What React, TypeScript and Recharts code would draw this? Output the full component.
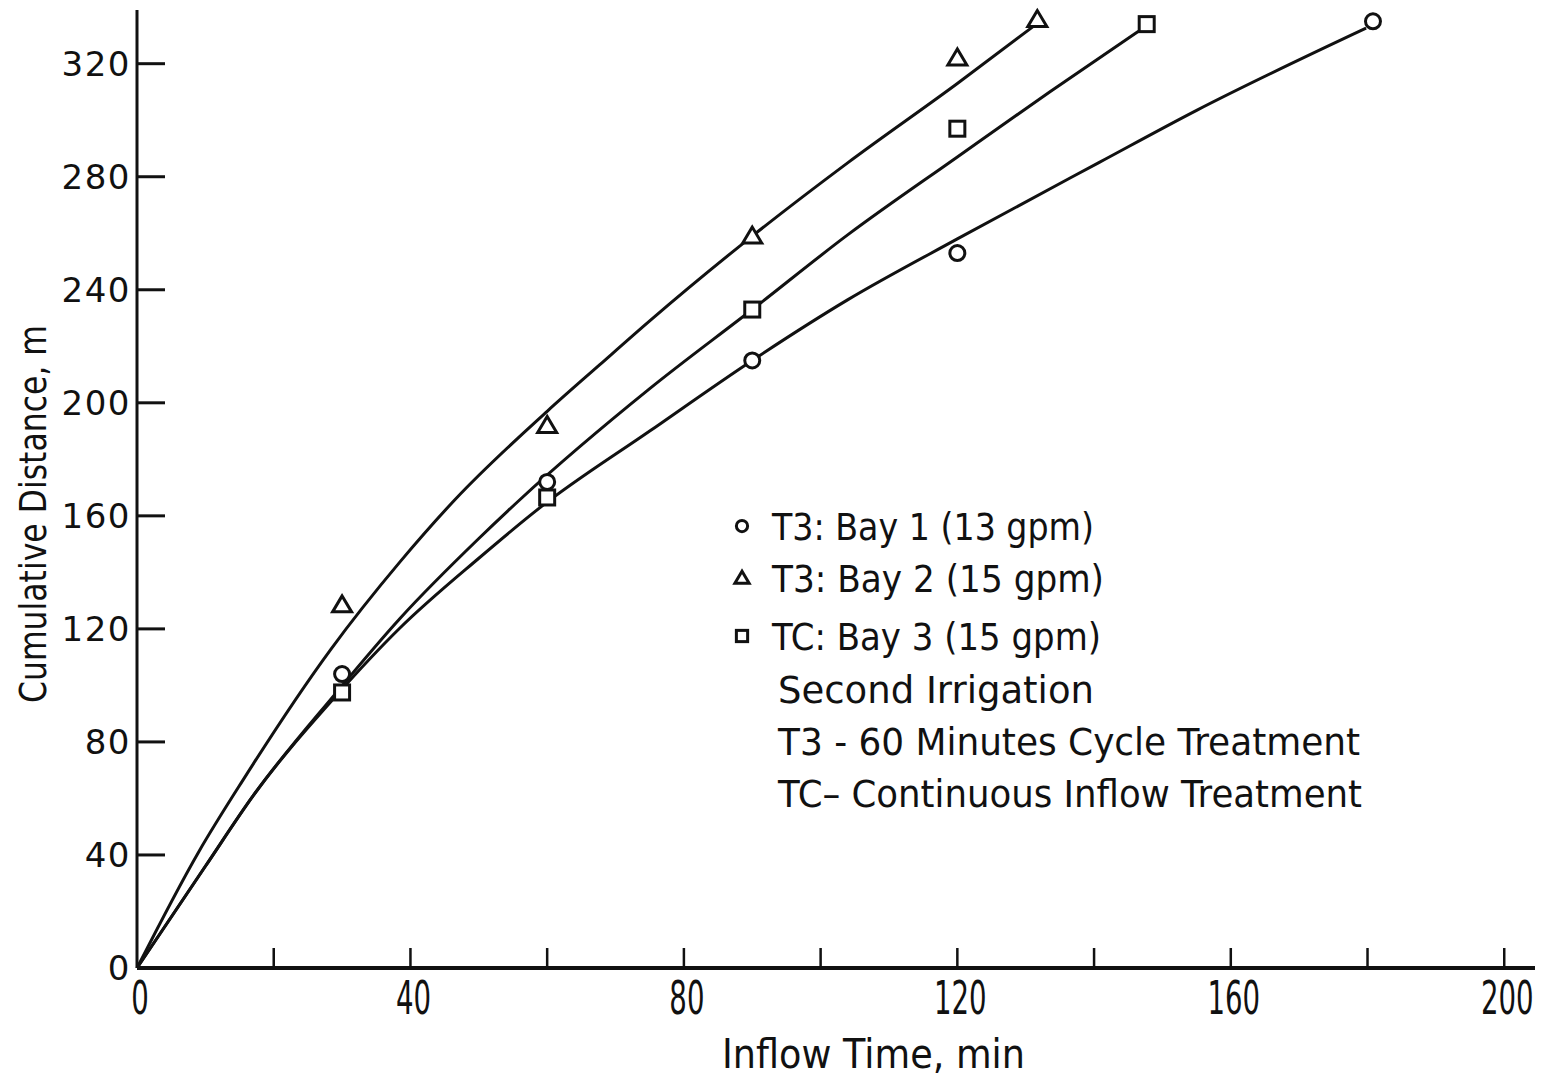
import { ComposedChart, Legend, Line, Scatter, XAxis, YAxis } from "recharts"

const xTicks = [0, 20, 40, 60, 80, 100, 120, 140, 160, 180, 200]
const yTicks = [0, 40, 80, 120, 160, 200, 240, 280, 320]

// observed advance points (t = inflow time min, d = distance m)
const bay1Points = [
  { t: 30, d: 104 },
  { t: 60, d: 172 },
  { t: 90, d: 215 },
  { t: 120, d: 253 },
  { t: 180.8, d: 335 },
]
const bay2Points = [
  { t: 30, d: 128.5 },
  { t: 60, d: 192 },
  { t: 90, d: 259 },
  { t: 120, d: 322 },
  { t: 131.7, d: 335.6 },
]
const bay3Points = [
  { t: 30, d: 97.5 },
  { t: 60, d: 166.5 },
  { t: 90, d: 233 },
  { t: 120, d: 297 },
  { t: 147.7, d: 334 },
]

// fitted curves
const bay1Curve = [
  { t: 0, d: 0 },
  { t: 10, d: 36 },
  { t: 17, d: 61 },
  { t: 29, d: 96 },
  { t: 38.5, d: 120.4 },
  { t: 50, d: 145 },
  { t: 59, d: 163 },
  { t: 75, d: 190 },
  { t: 90, d: 215 },
  { t: 104, d: 236.5 },
  { t: 120, d: 258 },
  { t: 140.7, d: 285 },
  { t: 155, d: 303.5 },
  { t: 179.8, d: 332.6 },
]
const bay2Curve = [
  { t: 0, d: 0 },
  { t: 9, d: 41 },
  { t: 15.5, d: 66.5 },
  { t: 28.3, d: 112.6 },
  { t: 38.5, d: 143.8 },
  { t: 46.5, d: 165.7 },
  { t: 60, d: 197 },
  { t: 67.7, d: 213.5 },
  { t: 75, d: 229 },
  { t: 90, d: 259 },
  { t: 104, d: 285 },
  { t: 120, d: 313 },
  { t: 131, d: 333 },
]
const bay3Curve = [
  { t: 0, d: 0 },
  { t: 10, d: 36 },
  { t: 17, d: 61 },
  { t: 29, d: 97 },
  { t: 38.5, d: 123.8 },
  { t: 50, d: 152 },
  { t: 56, d: 165.7 },
  { t: 75, d: 205 },
  { t: 90, d: 233 },
  { t: 104, d: 259.5 },
  { t: 120, d: 287 },
  { t: 133.5, d: 310 },
  { t: 146.5, d: 331.5 },
]

const seriesLabels = ["T3: Bay 1 (13 gpm)", "T3: Bay 2 (15 gpm)", "TC: Bay 3 (15 gpm)"]
const notes = ["Second Irrigation", "T3 - 60 Minutes Cycle Treatment", "TC\u2013 Continuous Inflow Treatment"]

const INK = "#111"
const FONT = "'DejaVu Sans', sans-serif"

function Marker({ kind, cx, cy, s = 1 }: { kind: string; cx: number; cy: number; s?: number }) {
  if (kind === "circle") {
    return <circle cx={cx} cy={cy} r={7.5 * s} fill="#fff" stroke={INK} strokeWidth={3} />
  }
  if (kind === "triangle") {
    const pts = `${cx},${cy - 9 * s} ${cx - 9.5 * s},${cy + 7 * s} ${cx + 9.5 * s},${cy + 7 * s}`
    return <polygon points={pts} fill="#fff" stroke={INK} strokeWidth={3} />
  }
  return <rect x={cx - 7.5 * s} y={cy - 7.5 * s} width={15 * s} height={15 * s} fill="#fff" stroke={INK} strokeWidth={3} />
}

// condensed tall digits like the typed original
const XTick = (props: any) => {
  const { x, y, payload } = props
  const v = payload.value
  return (
    <g>
      {v !== 0 && <line x1={x} x2={x} y1={y} y2={y - 20} stroke={INK} strokeWidth={2.5} />}
      {v % 40 === 0 && (
        <text
          transform={`translate(${x + 3} ${y + 46}) scale(0.6 1)`}
          textAnchor="middle"
          fontFamily={FONT}
          fontSize={46}
          fill={INK}
        >
          {v}
        </text>
      )}
    </g>
  )
}

const YTick = (props: any) => {
  const { x, y, payload } = props
  const v = payload.value
  return (
    <g>
      {v !== 0 && <line x1={x} x2={x + 28} y1={y} y2={y} stroke={INK} strokeWidth={3} />}
      <text x={x - 6} y={y + 12} textAnchor="end" fontFamily={FONT} fontSize={34} letterSpacing={1.5} fill={INK}>
        {v}
      </text>
    </g>
  )
}

const kinds = ["circle", "triangle", "square"]
const labelWidths = [322, 332, 329]
const labelBase = [45, 97, 155]
const noteWidths = [316, 582, 584]

const LegendBox = () => (
  <svg width={700} height={330}>
    {seriesLabels.map((label, i) => (
      <g key={label}>
        <Marker kind={kinds[i]} cx={22} cy={labelBase[i] - 14} s={0.75} />
        <text
          x={52}
          y={labelBase[i]}
          fontFamily={FONT}
          fontSize={37}
          textLength={labelWidths[i]}
          lengthAdjust="spacingAndGlyphs"
          fill={INK}
        >
          {label}
        </text>
      </g>
    ))}
    {notes.map((n, i) => (
      <text
        key={n}
        x={58}
        y={208 + i * 52}
        fontFamily={FONT}
        fontSize={37}
        textLength={noteWidths[i]}
        lengthAdjust="spacingAndGlyphs"
        fill={INK}
      >
        {n}
      </text>
    ))}
  </svg>
)

export default function App() {
  return (
    <div style={{ position: "absolute", left: 0, top: 0, width: 1560, height: 1080, background: "#fff" }}>
      <ComposedChart width={1560} height={1080} margin={{ top: 10, right: 25, bottom: 0, left: 0 }}>
        <XAxis
          type="number"
          dataKey="t"
          domain={[0, 204.5]}
          ticks={xTicks}
          interval={0}
          tickSize={0}
          tickMargin={0}
          tickLine={false}
          tick={<XTick />}
          axisLine={{ stroke: INK, strokeWidth: 4 }}
          height={112}
          label={{
            content: () => (
              <text
                x={722}
                y={1068}
                fontFamily={FONT}
                fontSize={40}
                textLength={303}
                lengthAdjust="spacingAndGlyphs"
                fill={INK}
              >
                Inflow Time, min
              </text>
            ),
          }}
        />
        <YAxis
          type="number"
          dataKey="d"
          domain={[0, 339]}
          ticks={yTicks}
          interval={0}
          tickSize={0}
          tickMargin={0}
          tickLine={false}
          tick={<YTick />}
          axisLine={{ stroke: INK, strokeWidth: 3 }}
          width={137}
          label={{
            content: () => (
              <text
                x={46}
                y={703}
                transform="rotate(-90 46 703)"
                fontFamily={FONT}
                fontSize={38}
                textLength={378}
                lengthAdjust="spacingAndGlyphs"
                fill={INK}
              >
                Cumulative Distance, m
              </text>
            ),
          }}
        />
        <Legend
          layout="vertical"
          align="center"
          verticalAlign="middle"
          wrapperStyle={{ left: 720, top: 495, width: 700 }}
          content={<LegendBox />}
        />
        <Line data={bay1Curve} dataKey="d" type="monotone" stroke={INK} strokeWidth={3} dot={false} isAnimationActive={false} />
        <Line data={bay2Curve} dataKey="d" type="monotone" stroke={INK} strokeWidth={3} dot={false} isAnimationActive={false} />
        <Line data={bay3Curve} dataKey="d" type="monotone" stroke={INK} strokeWidth={3} dot={false} isAnimationActive={false} />
        <Scatter data={bay1Points} dataKey="d" isAnimationActive={false} shape={(p: any) => <Marker kind="circle" cx={p.cx} cy={p.cy} />} />
        <Scatter data={bay2Points} dataKey="d" isAnimationActive={false} shape={(p: any) => <Marker kind="triangle" cx={p.cx} cy={p.cy} />} />
        <Scatter data={bay3Points} dataKey="d" isAnimationActive={false} shape={(p: any) => <Marker kind="square" cx={p.cx} cy={p.cy} />} />
      </ComposedChart>
    </div>
  )
}
